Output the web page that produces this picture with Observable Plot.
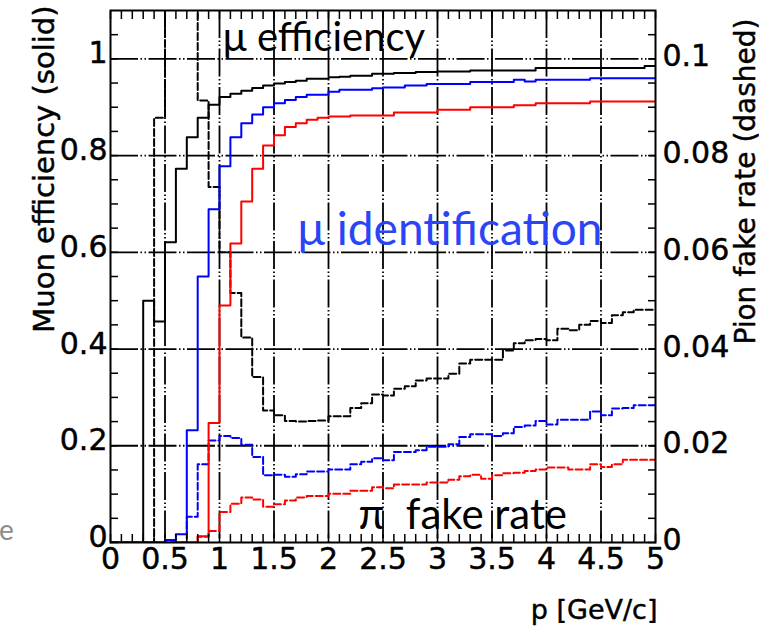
<!DOCTYPE html>
<html><head><meta charset="utf-8">
<script src="https://cdn.jsdelivr.net/npm/d3@7"></script>
<script src="https://cdn.jsdelivr.net/npm/@observablehq/plot@0.6"></script>
<style>
html,body{margin:0;padding:0;background:#fff;}
#chart{position:relative;width:771px;height:632px;overflow:hidden;}
</style></head><body><div id="chart"></div>
<script>
// Momentum bin edges (GeV/c), 0.1 GeV/c wide
const binEdges = [0,0.1,0.2,0.3,0.4,0.5,0.6,0.7,0.8,0.9,1.0,1.1,1.2,1.3,1.4,1.5,1.6,1.7,1.8,1.9,2.0,
  2.1,2.2,2.3,2.4,2.5,2.6,2.7,2.8,2.9,3.0,3.1,3.2,3.3,3.4,3.5,3.6,3.7,3.8,3.9,4.0,
  4.1,4.2,4.3,4.4,4.5,4.6,4.7,4.8,4.9,5.0];

// Muon efficiency (solid, left axis), one value per bin
const muEffBlack = [0,0,0,0.500,0.457,0.621,0.773,0.838,0.878,0.905,
  0.921,0.928,0.934,0.940,0.945,0.949,0.952,0.955,0.959,0.959,
  0.962,0.963,0.965,0.965,0.969,0.969,0.971,0.971,0.973,0.973,
  0.974,0.974,0.974,0.976,0.976,0.976,0.976,0.976,0.976,0.981,
  0.981,0.981,0.981,0.981,0.981,0.981,0.981,0.981,0.981,0.985];
const muEffBlue = [0,0,0,0,0,0.005,0.017,0.232,0.550,0.689,
  0.778,0.838,0.867,0.885,0.900,0.908,0.915,0.921,0.926,0.926,
  0.932,0.936,0.936,0.936,0.939,0.941,0.941,0.945,0.945,0.948,
  0.948,0.948,0.948,0.952,0.952,0.952,0.952,0.957,0.953,0.957,
  0.957,0.957,0.957,0.957,0.960,0.960,0.960,0.960,0.960,0.960];
const muEffRed = [0,0,0,0,0,0,0,0,0.013,0.247,
  0.490,0.618,0.705,0.773,0.821,0.842,0.859,0.867,0.874,0.878,
  0.881,0.881,0.883,0.883,0.883,0.883,0.889,0.889,0.889,0.889,
  0.895,0.895,0.895,0.900,0.900,0.900,0.900,0.904,0.904,0.908,
  0.908,0.908,0.908,0.908,0.912,0.912,0.912,0.912,0.912,0.912];

// Pion fake rate (dashed, right axis), one value per bin
const fakeBlack = [0,0,0,0,0.0878,0.115,0.115,0.115,0.0914,0.0735,
  0.0600,0.0516,0.0424,0.0342,0.0273,0.0263,0.0251,0.0250,0.0251,0.0252,
  0.0261,0.0261,0.0278,0.0288,0.0306,0.0304,0.0318,0.0323,0.0335,0.0339,
  0.0339,0.0349,0.0370,0.0378,0.0378,0.0378,0.0397,0.0412,0.0418,0.0421,
  0.0418,0.0442,0.0439,0.0450,0.0458,0.0454,0.0470,0.0476,0.0481,0.0481];
const fakeBlue = [0,0,0,0,0,0,0,0.0053,0.0162,0.0211,
  0.0220,0.0216,0.0202,0.0177,0.0139,0.0140,0.0136,0.0141,0.0147,0.0147,
  0.0151,0.0151,0.0162,0.0167,0.0174,0.0170,0.0187,0.0187,0.0191,0.0198,
  0.0198,0.0203,0.0218,0.0224,0.0224,0.0220,0.0226,0.0239,0.0242,0.0251,
  0.0244,0.0254,0.0254,0.0254,0.0271,0.0263,0.0277,0.0278,0.0284,0.0284];
const fakeRed = [0,0,0,0,0,0,0,0,0.0012,0.0024,
  0.0063,0.0080,0.0093,0.0089,0.0074,0.0079,0.0087,0.0093,0.0096,0.0096,
  0.0101,0.0101,0.0107,0.0107,0.0114,0.0112,0.0120,0.0120,0.0120,0.0124,
  0.0124,0.0130,0.0137,0.0140,0.0132,0.0139,0.0143,0.0144,0.0148,0.0151,
  0.0155,0.0155,0.0151,0.0151,0.0162,0.0156,0.0162,0.0171,0.0171,0.0171];

// Axis ticks and labels
const xTickValues = [0,0.5,1,1.5,2,2.5,3,3.5,4,4.5,5];
const xTickLabels = ["0","0.5","1","1.5","2","2.5","3","3.5","4","4.5","5"];
const yLeftTickValues = [0,0.2,0.4,0.6,0.8,1];
const yLeftTickLabels = ["0","0.2","0.4","0.6","0.8","1"];
const yRightTickValues = [0,0.02,0.04,0.06,0.08,0.1];
const yRightTickLabels = ["0","0.02","0.04","0.06","0.08","0.1"];
const yMinorTicks = [0,0.05,0.1,0.15,0.2,0.25,0.3,0.35,0.4,0.45,0.5,0.55,0.6,0.65,0.7,0.75,0.8,0.85,0.9,0.95,1.0,1.05];
const yDomain = [0, 1.1];
const xDomain = [0, 5];
const fakeToEff = 10; // right axis (0–0.11) drawn on the left axis scale (0–1.1)

const annotations = [
  {text: "μ efficiency", x: 1.03, y: 1.042, color: "#000000", size: 40},
  {text: "μ identification", x: 1.716, y: 0.646, color: "#2a45f5", size: 46},
  {text: "π  fake rate", x: 2.275, y: 0.0564, color: "#000000", size: 42}
];

function histPoints(values, scale) {
  const pts = values.map((v, i) => ({p: binEdges[i], v: v * scale}));
  pts.push({p: binEdges[values.length], v: values[values.length - 1] * scale});
  return pts;
}

const gridDash = "28,2.5,1.5,2.5,1.5,2.5";
const font = "DejaVu Sans";
const tickFs = 30;
const textStroke = {fill: "#000", stroke: "#000", strokeWidth: 0.45, paintOrder: "stroke"};

const solid = (vals, color) => Plot.line(histPoints(vals, 1), {x: "p", y: "v", curve: "step-after", stroke: color, strokeWidth: 2, clip: true});
const dashed = (vals, color) => Plot.line(histPoints(vals, fakeToEff), {x: "p", y: "v", curve: "step-after", stroke: color, strokeWidth: 2, strokeDasharray: "7,3", clip: true});

const chart = Plot.plot({
  width: 771, height: 632,
  marginLeft: 110, marginRight: 116, marginTop: 10, marginBottom: 90,
  x: {domain: xDomain, axis: null},
  y: {domain: yDomain, axis: null},
  color: {type: "identity"},
  style: {fontFamily: font, background: "#ffffff", color: "#000", overflow: "visible"},
  marks: [
    Plot.ruleX(xTickValues.slice(1, -1), {x: d => d, stroke: "#000", strokeWidth: 1.8, strokeDasharray: gridDash}),
    Plot.ruleY(yLeftTickValues.slice(1), {y: d => d, stroke: "#000", strokeWidth: 1.8, strokeDasharray: gridDash}),
    dashed(fakeBlack, "#000000"),
    dashed(fakeBlue, "#0000ff"),
    dashed(fakeRed, "#ff0000"),
    solid(muEffBlack, "#000000"),
    solid(muEffBlue, "#0000ff"),
    solid(muEffRed, "#ff0000"),
    Plot.frame({stroke: "#000", strokeWidth: 2}),
    Plot.axisX({anchor: "bottom", ticks: binEdges, tickSize: -8, tickFormat: () => "", strokeWidth: 1.5}),
    Plot.axisX({anchor: "top", ticks: binEdges, tickSize: -8, tickFormat: () => "", strokeWidth: 1.5}),
    Plot.axisY({anchor: "left", ticks: yMinorTicks, tickSize: -8, tickFormat: () => "", strokeWidth: 1.5}),
    Plot.axisY({anchor: "right", ticks: yMinorTicks, tickSize: -8, tickFormat: () => "", strokeWidth: 1.5}),
    Plot.text(xTickValues, {x: d => d, text: (d, i) => xTickLabels[i], frameAnchor: "bottom", lineAnchor: "top", dy: 5, fontSize: tickFs, ...textStroke}),
    Plot.text(yLeftTickValues, {y: d => d, text: (d, i) => yLeftTickLabels[i], frameAnchor: "left", textAnchor: "end", dx: -3, dy: -5, fontSize: tickFs, ...textStroke}),
    Plot.text(yRightTickValues, {y: d => d * fakeToEff, text: (d, i) => yRightTickLabels[i], frameAnchor: "right", textAnchor: "start", dx: 7, dy: -2, fontSize: tickFs, ...textStroke}),
    Plot.text(["Muon efficiency (solid)"], {text: d => d, frameAnchor: "top-left", rotate: -90, textAnchor: "end", dx: -77, dy: -5, fontSize: 29, ...textStroke}),
    Plot.text(["Pion fake rate (dashed)"], {text: d => d, frameAnchor: "top-right", rotate: -90, textAnchor: "end", dx: 80, dy: 8, fontSize: 28, ...textStroke}),
    Plot.text(["p [GeV/c]"], {text: d => d, frameAnchor: "bottom-right", textAnchor: "end", dx: 2, dy: 76, fontSize: 27, ...textStroke}),
    Plot.text(["e"], {text: d => d, frameAnchor: "bottom-left", textAnchor: "middle", dx: -104, dy: -3, fontSize: 28, fontFamily: "Lato", fill: "#8c8c8c"}),
    Plot.text(annotations, {x: "x", y: "y", text: "text", fill: "color", fontSize: "size", textAnchor: "start", fontFamily: "Lato"})
  ]
});
document.getElementById("chart").appendChild(chart);
</script></body></html>
